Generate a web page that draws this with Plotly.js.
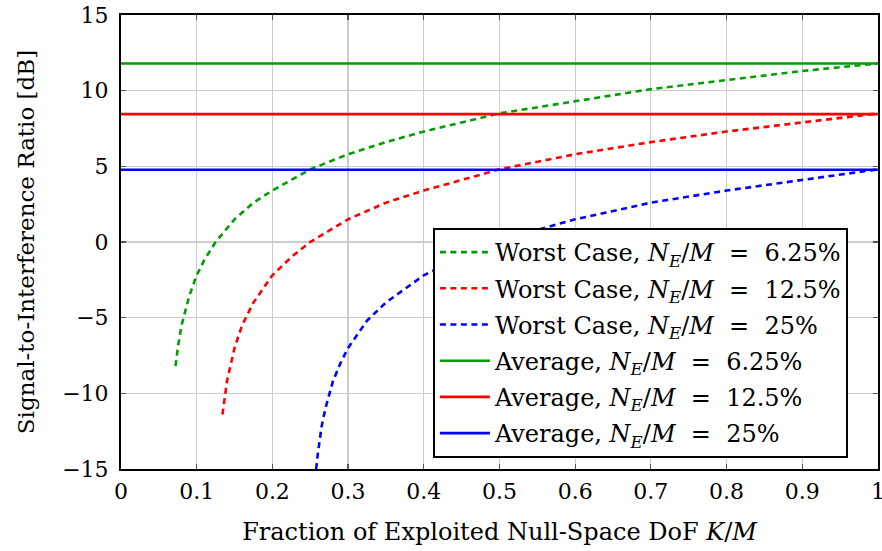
<!DOCTYPE html>
<html>
<head>
<meta charset="utf-8">
<script src="https://cdn.plot.ly/plotly-3.0.1.min.js"></script>
<style>
  html, body { margin: 0; padding: 0; background: #fff; }
  #chart { width: 882px; height: 551px; }
</style>
</head>
<body>
<div id="chart"></div>
<script>
// Worst-case SIR curves (dB) versus exploited null-space fraction K/M
const xWorst625 = [0.072, 0.075, 0.08, 0.09, 0.1, 0.11, 0.125, 0.15, 0.175, 0.2, 0.25, 0.3, 0.35, 0.4, 0.45, 0.5, 0.6, 0.7, 0.8, 0.9, 1.0];
const yWorst625 = [-8.2, -7.0, -5.5, -3.6, -2.2, -1.2, 0.0, 1.5, 2.6, 3.4, 4.8, 5.8, 6.6, 7.3, 7.9, 8.5, 9.3, 10.1, 10.7, 11.3, 11.8];

const xWorst125 = [0.134, 0.137, 0.14, 0.15, 0.16, 0.175, 0.2, 0.225, 0.25, 0.3, 0.35, 0.4, 0.45, 0.5, 0.6, 0.7, 0.8, 0.9, 1.0];
const yWorst125 = [-11.4, -10.2, -9.2, -7.0, -5.5, -4.0, -2.2, -1.0, 0.0, 1.5, 2.6, 3.4, 4.1, 4.8, 5.8, 6.6, 7.3, 7.9, 8.5];

const xWorst25 = [0.2578, 0.26, 0.265, 0.27, 0.28, 0.29, 0.3, 0.325, 0.35, 0.4, 0.45, 0.5, 0.55, 0.6, 0.7, 0.8, 0.9, 1.0];
const yWorst25 = [-15.0, -14.0, -12.2, -11.0, -9.2, -8.0, -7.0, -5.2, -4.0, -2.2, -1.0, 0.0, 0.8, 1.5, 2.6, 3.4, 4.1, 4.8];

// Average SIR (dB), constant over K/M
const xAverage = [0, 1];
const avg625 = 11.8;
const avg125 = 8.45;
const avg25 = 4.77;

const xTicks = [0, 0.1, 0.2, 0.3, 0.4, 0.5, 0.6, 0.7, 0.8, 0.9, 1];
const xTickText = ['0', '0.1', '0.2', '0.3', '0.4', '0.5', '0.6', '0.7', '0.8', '0.9', '1'];
const yTicks = [-15, -10, -5, 0, 5, 10, 15];
const yTickText = ['\u221215', '\u221210', '\u22125', '0', '5', '10', '15'];

const EQ = '\u00a0\u00a0=\u00a0\u00a0';
const names = [
  'Worst Case, <i>N<sub>E</sub></i>/<i>M</i>' + EQ + '6.25%',
  'Worst Case, <i>N<sub>E</sub></i>/<i>M</i>' + EQ + '12.5%',
  'Worst Case, <i>N<sub>E</sub></i>/<i>M</i>' + EQ + '25%',
  'Average, <i>N<sub>E</sub></i>/<i>M</i>' + EQ + '6.25%',
  'Average, <i>N<sub>E</sub></i>/<i>M</i>' + EQ + '12.5%',
  'Average, <i>N<sub>E</sub></i>/<i>M</i>' + EQ + '25%'
];

const GREEN = 'rgb(0,158,0)';
const RED = 'rgb(255,0,0)';
const BLUE = 'rgb(0,0,255)';
const DASH = '6px,4.5px';
const LW = 2.6;

function worst(x, y, color, i) {
  return { x: x, y: y, type: 'scatter', mode: 'lines', name: names[i], legendgroup: 'g' + i,
           line: { color: color, width: LW, dash: DASH } };
}
function average(v, color, i) {
  return { x: xAverage, y: xAverage.map(() => v), type: 'scatter', mode: 'lines', name: names[i],
           legendgroup: 'g' + i, line: { color: color, width: LW } };
}

const data = [
  worst(xWorst625, yWorst625, GREEN, 0),
  worst(xWorst125, yWorst125, RED, 1),
  worst(xWorst25, yWorst25, BLUE, 2),
  average(avg625, GREEN, 3),
  average(avg125, RED, 4),
  average(avg25, BLUE, 5)
];

const FONT = 'DejaVu Serif';

const axisCommon = {
  showline: true, linecolor: '#000', linewidth: 2, mirror: 'ticks',
  ticks: 'inside', ticklen: 5, tickwidth: 1.2, tickcolor: '#555',
  showgrid: true, gridcolor: '#cccccc', gridwidth: 1.2,
  zeroline: false, ticklabeloverflow: 'allow',
  tickfont: { family: FONT, size: 22, color: '#000' }
};

const layout = {
  width: 882, height: 551,
  font: { family: FONT, size: 22, color: '#000' },
  margin: { l: 121, r: 4, t: 15, b: 82 },
  paper_bgcolor: '#fff', plot_bgcolor: '#fff',
  showlegend: true,
  xaxis: Object.assign({}, axisCommon, {
    range: [0, 1.0001], tickvals: xTicks, ticktext: xTickText, ticklabelstandoff: 2,
    title: { text: 'Fraction of Exploited Null-Space DoF <i>K</i>/<i>M</i>', font: { family: FONT, size: 24, color: '#000' }, standoff: 20 }
  }),
  yaxis: Object.assign({}, axisCommon, {
    range: [-15, 15], tickvals: yTicks, ticktext: yTickText, ticklabelstandoff: 6,
    title: { text: 'Signal-to-Interference Ratio [dB]', font: { family: FONT, size: 23, color: '#000' }, standoff: 21 }
  }),
  legend: {
    x: 0.412, y: 0.5308, xanchor: 'left', yanchor: 'top',
    bgcolor: '#fff', bordercolor: '#000', borderwidth: 2,
    font: { family: FONT, size: 24, color: '#000' },
    tracegroupgap: 2, itemwidth: 50,
    traceorder: 'grouped'
  }
};

Plotly.newPlot('chart', data, layout, { displayModeBar: false, staticPlot: true });
</script>
</body>
</html>
